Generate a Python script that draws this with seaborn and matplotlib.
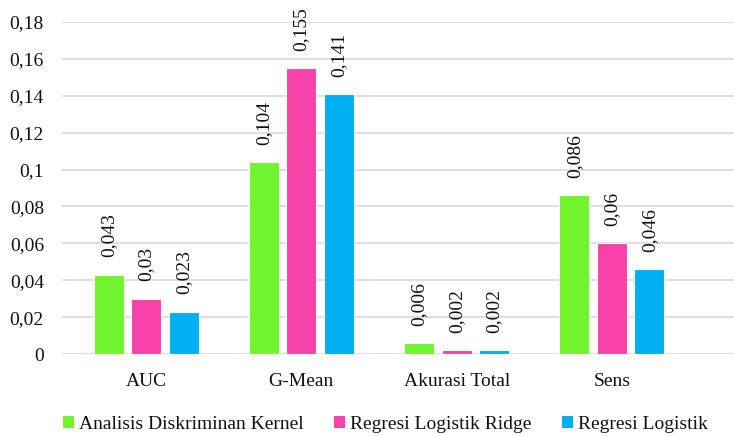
import matplotlib
matplotlib.use("Agg")
import matplotlib.pyplot as plt
import seaborn as sns
import pandas as pd
from matplotlib.ticker import FixedLocator, FixedFormatter
from matplotlib.patches import Patch

# Metric categories and per-method values
categories = ["AUC", "G-Mean", "Akurasi Total", "Sens"]
methods = ["Analisis Diskriminan Kernel", "Regresi Logistik Ridge", "Regresi Logistik"]
kernel_vals = [0.043, 0.104, 0.006, 0.086]
ridge_vals = [0.030, 0.155, 0.002, 0.060]
logit_vals = [0.023, 0.141, 0.002, 0.046]
ytick_values = [0, 0.02, 0.04, 0.06, 0.08, 0.10, 0.12, 0.14, 0.16, 0.18]
ytick_labels = ["0", "0,02", "0,04", "0,06", "0,08", "0,1", "0,12", "0,14", "0,16", "0,18"]

colors = ["#72F42E", "#F742A9", "#00B0F0"]

rows = []
for method, vals in zip(methods, [kernel_vals, ridge_vals, logit_vals]):
    for cat, v in zip(categories, vals):
        rows.append({"Kategori": cat, "Metode": method, "Nilai": v})
df = pd.DataFrame(rows)

sns.set_theme(style="white")
plt.rcParams["font.family"] = ["Liberation Serif", "DejaVu Serif"]
FS = 14

fig = plt.figure(figsize=(7.34, 4.36), dpi=100)
ax = fig.add_axes([62 / 734, 1 - 354 / 436, 1 - 62 / 734, (354 - 22) / 436])

sns.barplot(data=df, x="Kategori", y="Nilai", hue="Metode", order=categories,
            hue_order=methods, palette=colors, saturation=1, width=0.7245, gap=0.2,
            edgecolor="white", linewidth=0.8, legend=False, ax=ax, zorder=3)

# value labels above each bar
for container, vals in zip(ax.containers, [kernel_vals, ridge_vals, logit_vals]):
    for bar, v in zip(container, vals):
        ax.annotate(f"{v:g}".replace(".", ","),
                    xy=(bar.get_x() + bar.get_width() / 2, bar.get_height()),
                    xytext=(0, 12.5), textcoords="offset points",
                    rotation=90, ha="center", va="bottom", fontsize=FS,
                    color="#111111", annotation_clip=False)

ax.set_ylim(0, 0.18)
ax.set_xlim(-0.541, 3.786)
ax.yaxis.set_major_locator(FixedLocator(ytick_values))
ax.yaxis.set_major_formatter(FixedFormatter(ytick_labels))
ax.grid(axis="y", color="#D9D9D9", linewidth=1.2, zorder=0)
ax.set_axisbelow(True)
for s in ax.spines.values():
    s.set_visible(False)
ax.tick_params(axis="y", length=0, pad=13, labelsize=FS, labelcolor="#111111")
ax.tick_params(axis="x", length=0, pad=14, labelsize=FS, labelcolor="#111111")
ax.set_xlabel("")
ax.set_ylabel("")

handles = [Patch(facecolor=c, edgecolor="none") for c in colors]
fig.legend(handles, methods, loc="center", bbox_to_anchor=(0.525, 0.027), ncol=3,
           frameon=False, fontsize=FS, handlelength=0.55, handleheight=0.55,
           handletextpad=0.25, columnspacing=1.6, labelcolor="#111111")

fig.savefig("out.png", dpi=100)
